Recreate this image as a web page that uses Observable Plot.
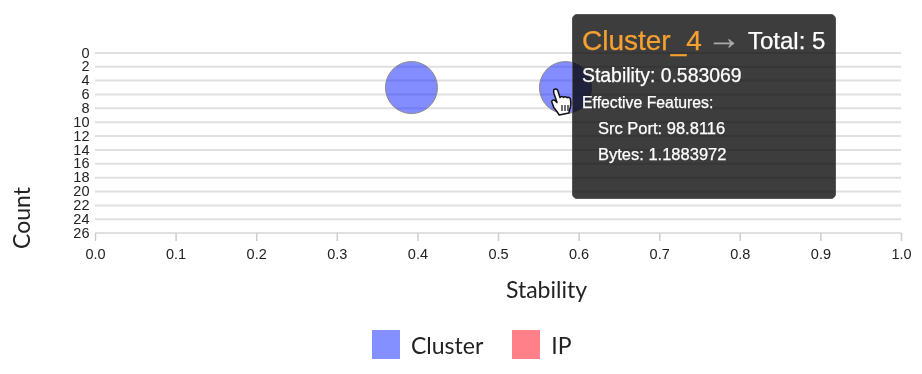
<!DOCTYPE html>
<html>
<head>
<meta charset="utf-8">
<script src="https://cdn.jsdelivr.net/npm/d3@7"></script>
<script src="https://cdn.jsdelivr.net/npm/@observablehq/plot@0.6"></script>
<style>
html,body{margin:0;padding:0;background:#fff;}
#wrap{position:relative;width:922px;height:374px;overflow:hidden;filter:blur(.45px);}
#wrap svg.plot{position:absolute;left:0;top:0;font-family:"Liberation Sans",Arial,sans-serif;}
.legend{position:absolute;left:372px;top:330px;display:flex;align-items:center;font:23px Lato,sans-serif;color:#222;}
.legend i{display:block;width:28px;height:29px;margin-right:11px;}
.legend span{margin-right:29px;}
.tip{position:absolute;top:14px;width:264px;height:185px;box-sizing:border-box;background:rgba(0,0,0,.76);border-radius:5px;border:1px solid #555;color:#fff;font-family:"Liberation Sans",Arial,sans-serif;-webkit-text-stroke:.25px currentColor;}
.tip div{position:absolute;white-space:pre;line-height:1;left:9px;}
.tip .name{color:#f5a030;font-size:28px;top:12px;}
.tip .arrow{color:#aaa;font-size:34px;top:5px;left:134px;}
.tip .total{font-size:24px;top:14px;left:175px;}
.tip .stab{font-size:19.4px;top:51px;}
.tip .ef{font-size:15.8px;top:80px;}
.tip .f1{font-size:16.5px;top:105px;left:25px;}
.tip .f2{font-size:16.5px;top:131px;left:25px;}
.hand{position:absolute;left:551px;top:87px;}
</style>
</head>
<body>
<div id="wrap"></div>
<script>
const clusterNames = ["Cluster_3", "Cluster_4"];
const stability = [0.392, 0.583069];
const counts = [5, 5];
const yTicks = d3.range(0, 27, 2);
const xTicks = d3.range(0, 11).map(d => d / 10);
const legendLabels = ["Cluster", "IP"];
const legendColors = ["#8490ff", "#ff8088"];
const tooltip = {name: "Cluster_4", total: 5, stability: "0.583069", features: [["Src Port", "98.8116"], ["Bytes", "1.1883972"]]};

const points = clusterNames.map((name, i) => ({name, s: stability[i], c: counts[i]}));

const titleStyle = {fontSize: 23, fontFamily: "Lato, sans-serif", fill: "#222", textAnchor: "middle"};

const plot = Plot.plot({
  width: 922,
  height: 310,
  marginTop: 52,
  marginBottom: 77,
  marginLeft: 95,
  marginRight: 21,
  style: {background: "transparent", overflow: "visible"},
  x: {domain: [0, 1]},
  y: {domain: [0, 26], range: [52.4, 232.6]},
  marks: [
    Plot.gridY(yTicks, {stroke: "#e0e0e0", strokeWidth: 2, strokeOpacity: 1}),
    Plot.axisY({ticks: yTicks, tickSize: 0, tickPadding: 6, fontSize: 14.5, fill: "#222", label: null}),
    Plot.axisX({ticks: xTicks, tickSize: 8, tickPadding: 7, fontSize: 14.5, fill: "#222", stroke: "#ccc", strokeWidth: 1.5,
      tickFormat: d3.format(".1f"), label: null}),
    Plot.text(["Stability"], {...titleStyle, frameAnchor: "bottom", dx: 48, dy: 64}),
    Plot.text(["Count"], {...titleStyle, frameAnchor: "left", rotate: -90, dx: -73, dy: 75}),
    Plot.dot(points, {x: "s", y: "c", r: 26, fill: "#0a1cff", fillOpacity: 0.5, stroke: "#888", strokeWidth: 1})
  ]
});
plot.classList.add("plot");
const wrap = document.getElementById("wrap");
wrap.appendChild(plot);

const legend = document.createElement("div");
legend.className = "legend";
legendLabels.forEach((l, i) => {
  const sw = document.createElement("i");
  sw.style.background = legendColors[i];
  const tx = document.createElement("span");
  tx.textContent = l;
  legend.append(sw, tx);
});
wrap.appendChild(legend);

const tip = document.createElement("div");
tip.className = "tip";
tip.style.left = Math.round(plot.scale("x").apply(tooltip.stability) + 7) + "px";
const add = (cls, text) => { const d = document.createElement("div"); d.className = cls; d.textContent = text; tip.appendChild(d); };
add("name", tooltip.name);
add("arrow", "\u2192");
add("total", "Total: " + tooltip.total);
add("stab", "Stability: " + tooltip.stability);
add("ef", "Effective Features:");
add("f1", tooltip.features[0][0] + ": " + tooltip.features[0][1]);
add("f2", tooltip.features[1][0] + ": " + tooltip.features[1][1]);
wrap.appendChild(tip);

const hand = document.createElement("div");
hand.className = "hand";
hand.innerHTML = '<svg width="23" height="30" viewBox="0 0 23 30"><path d="M3 2.500c1.500-1.200 3.200-.5 3.800 1l2.200 7c.3-1.500 3-1.500 3.600 0 .5-1.200 3-1.200 3.500.3.8-.9 3-.4 3.300 1.200.6 3.400.5 7-.6 10.200l-1 3.800-9.500 2c-1.500-2.500-3.500-5-5.500-7.500L1 15.500c-.8-1.500.8-3 2.500-2.200L6 15.500 3 6.500c-.4-1.500-.6-3.200 0-4z" fill="#fff" stroke="#111" stroke-width="1.500" stroke-linejoin="round"/><path d="M11 18v6M14 18v6M17 18v6" stroke="#111" stroke-width="1.200"/></svg>';
wrap.appendChild(hand);
</script>
</body>
</html>
